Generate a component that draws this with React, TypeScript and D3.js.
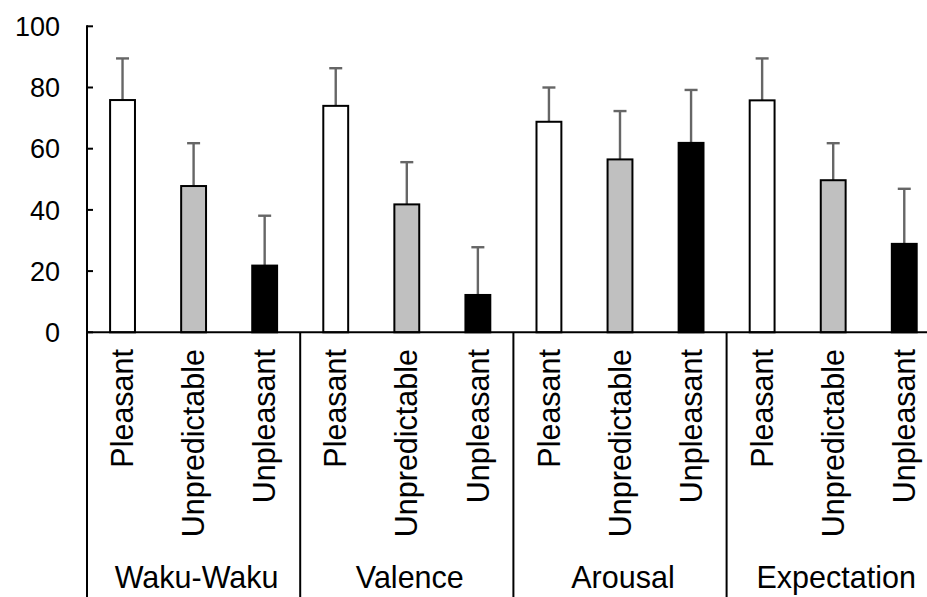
import React from "react";
import * as d3 from "d3";

const groups = ["Waku-Waku", "Valence", "Arousal", "Expectation"];
const conditions = ["Pleasant", "Unpredictable", "Unpleasant"];
const pleasantMeans = [75.9, 74.0, 68.8, 75.8];
const unpredictableMeans = [47.8, 41.8, 56.5, 49.7];
const unpleasantMeans = [21.8, 12.2, 61.9, 28.9];
const pleasantErr = [13.6, 12.3, 11.2, 13.7];
const unpredictableErr = [14.0, 13.8, 15.8, 12.1];
const unpleasantErr = [16.3, 15.6, 17.3, 18.0];
const yTicks = [0, 20, 40, 60, 80, 100];

const fills = ["#ffffff", "#c0c0c0", "#000000"];
const W = 927;
const H = 597;
const FONT = "'Liberation Sans', Arial, Helvetica, sans-serif";

export default function App() {
  const axisX = 87;
  const groupW = 213.2;
  const x0 = d3.scaleBand<string>().domain(groups).range([axisX, axisX + groupW * groups.length]);
  const x1 = d3.scaleBand<string>().domain(conditions).range([0, x0.bandwidth()]).paddingInner(0.65).paddingOuter(0.325);
  const y = d3.scaleLinear().domain([0, 100]).range([332.3, 26.3]);

  const meansBy = [pleasantMeans, unpredictableMeans, unpleasantMeans];
  const errBy = [pleasantErr, unpredictableErr, unpleasantErr];

  const bars: any[] = [];
  groups.forEach((g, gi) => {
    conditions.forEach((c, ci) => {
      bars.push({ g, c, ci, mean: meansBy[ci][gi], err: errBy[ci][gi] });
    });
  });

  const bw = x1.bandwidth();
  const capHalf = 6.5;

  return (
    <div style={{ position: "absolute", left: 0, top: 0 }}>
      <svg width={W} height={H} style={{ display: "block", background: "#fff" }} fontFamily={FONT}>
        {/* error bars */}
        {bars.map((b, i) => {
          const cx = (x0(b.g) as number) + (x1(b.c) as number) + bw / 2;
          return (
            <g key={"e" + i} stroke="#666666" strokeWidth={2.4}>
              <line x1={cx} x2={cx} y1={y(b.mean)} y2={y(b.mean + b.err)} />
              <line x1={cx - capHalf} x2={cx + capHalf} y1={y(b.mean + b.err)} y2={y(b.mean + b.err)} />
            </g>
          );
        })}
        {/* bars */}
        {bars.map((b, i) => {
          const bx = (x0(b.g) as number) + (x1(b.c) as number);
          return (
            <rect
              key={"b" + i}
              x={bx}
              y={y(b.mean)}
              width={bw}
              height={y(0) - y(b.mean)}
              fill={fills[b.ci]}
              stroke="#000"
              strokeWidth={2}
            />
          );
        })}
        {/* y axis */}
        <line x1={axisX} x2={axisX} y1={y(100) - 1} y2={H} stroke="#000" strokeWidth={2} />
        {yTicks.map((t) => (
          <g key={"t" + t}>
            <line x1={axisX} x2={axisX + 6} y1={y(t)} y2={y(t)} stroke="#000" strokeWidth={2} />
            <text x={60} y={y(t)} dy="0.36em" textAnchor="end" fontSize={27} fill="#000">
              {t}
            </text>
          </g>
        ))}
        {/* x axis */}
        <line x1={axisX} x2={W} y1={y(0)} y2={y(0)} stroke="#000" strokeWidth={2} />
        {/* group separators */}
        {groups.slice(1).map((g) => (
          <line key={"s" + g} x1={x0(g) as number} x2={x0(g) as number} y1={y(0)} y2={H} stroke="#000" strokeWidth={2} />
        ))}
        {/* condition labels */}
        {bars.map((b, i) => {
          const cx = (x0(b.g) as number) + (x1(b.c) as number) + bw / 2;
          return (
            <text
              key={"l" + i}
              transform={`translate(${cx},349) rotate(-90)`}
              textAnchor="end"
              dy="0.35em"
              fontSize={30.5}
              fill="#000"
            >
              {b.c}
            </text>
          );
        })}
        {/* group labels */}
        {groups.map((g) => (
          <text
            key={"g" + g}
            x={(x0(g) as number) + x0.bandwidth() / 2 + 3}
            y={588}
            textAnchor="middle"
            fontSize={30.5}
            fill="#000"
          >
            {g}
          </text>
        ))}
      </svg>
    </div>
  );
}
